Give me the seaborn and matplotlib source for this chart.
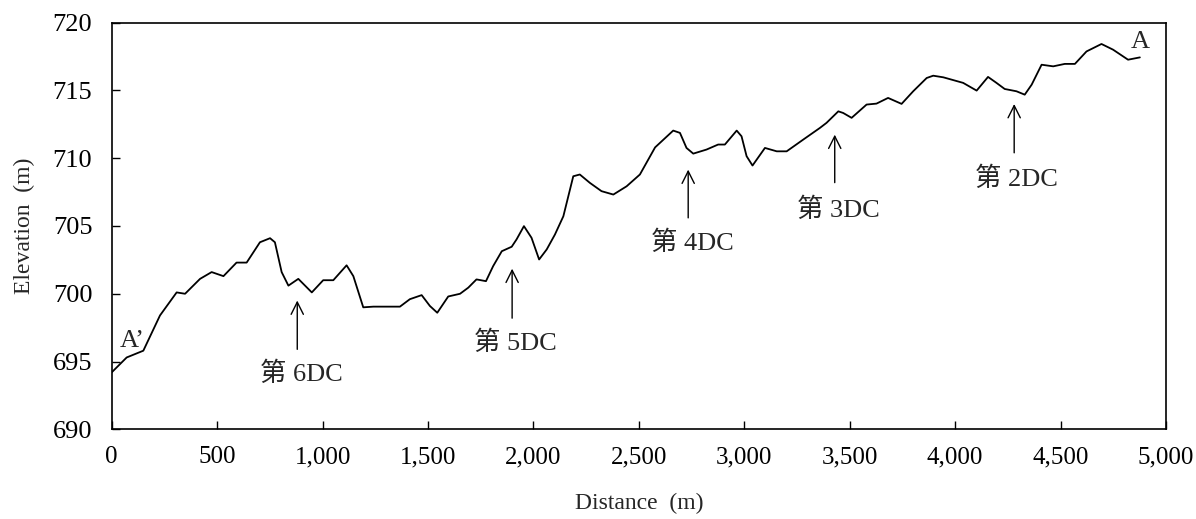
import matplotlib
matplotlib.use("Agg")
import matplotlib.pyplot as plt
import matplotlib.ticker as mticker
import seaborn as sns
import pandas as pd

distance = [0, 71, 150, 229, 308, 348, 419, 474, 530, 592, 640, 703, 751, 774, 806, 838, 885,
            949, 1003, 1051, 1114, 1146, 1193, 1241, 1367, 1414, 1470, 1509, 1544, 1596, 1652,
            1691, 1730, 1775, 1809, 1850, 1897, 1920, 1955, 1991, 2027, 2063, 2102, 2142, 2189,
            2220, 2268, 2323, 2379, 2442, 2505, 2577, 2663, 2695, 2726, 2758, 2821, 2876, 2908,
            2964, 2987, 3011, 3039, 3098, 3154, 3201, 3280, 3359, 3390, 3446, 3469, 3509, 3580,
            3627, 3682, 3746, 3801, 3865, 3896, 3944, 4038, 4102, 4156, 4196, 4235, 4291, 4330,
            4363, 4410, 4465, 4520, 4568, 4623, 4694, 4749, 4820, 4876]
elevation = [694.2, 695.3, 695.8, 698.4, 700.1, 700.0, 701.1, 701.6, 701.3, 702.3, 702.3, 703.8,
             704.1, 703.8, 701.6, 700.6, 701.1, 700.1, 701.0, 701.0, 702.1, 701.3, 699.0, 699.05,
             699.05, 699.6, 699.9, 699.1, 698.6, 699.8, 700.0, 700.45, 701.06, 700.93, 702.04,
             703.14, 703.47, 704.01, 704.99, 704.13, 702.53, 703.27, 704.37, 705.72, 708.67,
             708.8, 708.18, 707.57, 707.32, 707.93, 708.8, 710.8, 712.04, 711.87, 710.76, 710.34,
             710.64, 711.01, 711.01, 712.04, 711.62, 710.15, 709.46, 710.76, 710.51, 710.51,
             711.38, 712.24, 712.61, 713.46, 713.34, 712.98, 713.96, 714.03, 714.45, 714.01,
             714.94, 715.92, 716.09, 715.97, 715.56, 714.99, 716.0, 715.56, 715.11, 714.94,
             714.69, 715.43, 716.9, 716.78, 716.96, 716.96, 717.88, 718.43, 718.01, 717.27, 717.44]

dc_labels = ["第 6DC", "第 5DC", "第 4DC", "第 3DC", "第 2DC"]
dc_x = [880, 1899, 2734, 3429, 4280]
dc_tip = [699.5, 701.85, 709.16, 711.74, 714.0]
dc_tail = [695.9, 698.2, 705.6, 708.2, 710.4]
dc_text_x = [900, 1915, 2752, 3448, 4293]
dc_text_y = [694.1, 696.4, 703.8, 706.2, 708.5]

end_labels = ["A’", "A"]
end_x = [95, 4876]
end_y = [696.5, 718.6]

x_ticks = [0, 500, 1000, 1500, 2000, 2500, 3000, 3500, 4000, 4500, 5000]
y_ticks = [690, 695, 700, 705, 710, 715, 720]

sns.set_style("ticks")
plt.rcParams['font.family'] = ['Liberation Serif', 'Noto Sans CJK SC', 'DejaVu Sans']
plt.rcParams['axes.unicode_minus'] = False

fig = plt.figure(figsize=(11.96, 5.19), dpi=100)
ax = fig.add_axes([111.7 / 1196, 1 - 429.3 / 519, (1166 - 111.7) / 1196, (429.3 - 22.7) / 519])

df = pd.DataFrame({"Distance": distance, "Elevation": elevation})
sns.lineplot(data=df, x="Distance", y="Elevation", ax=ax, color="black", linewidth=1.3,
             sort=False, estimator=None)
ax.lines[0].set_solid_joinstyle("round")

ax.set_xlim(0, 5000)
ax.set_ylim(690, 720)
ax.set_xticks(x_ticks)
ax.set_yticks(y_ticks)
ax.xaxis.set_major_formatter(mticker.FuncFormatter(lambda v, p: f"{int(v):,}"))
ax.tick_params(direction="in", length=6, width=1.0, colors="black")
ax.tick_params(axis="x", pad=12, labelsize=18)
ax.tick_params(axis="y", pad=14, labelsize=19)
for s in ax.spines.values():
    s.set_visible(True)
    s.set_linewidth(1.2)
    s.set_color("black")

ax.set_xlabel("Distance  (m)", fontsize=17, labelpad=18)
ax.set_ylabel("Elevation  (m)", fontsize=17, labelpad=13)

for lab, x, tip, tail, tx, ty in zip(dc_labels, dc_x, dc_tip, dc_tail, dc_text_x, dc_text_y):
    ax.annotate("", xy=(x, tip), xytext=(x, tail),
                arrowprops=dict(arrowstyle="->", color="black", lw=1.0,
                                mutation_scale=22, shrinkA=0, shrinkB=0))
    ax.text(tx, ty, lab, ha="center", va="center", fontsize=19,
            family=['Liberation Serif', 'Noto Sans CJK SC'])

for lab, x, y in zip(end_labels, end_x, end_y):
    ax.text(x, y, lab, ha="center", va="center", fontsize=19)

fig.savefig("out.png", dpi=100)
